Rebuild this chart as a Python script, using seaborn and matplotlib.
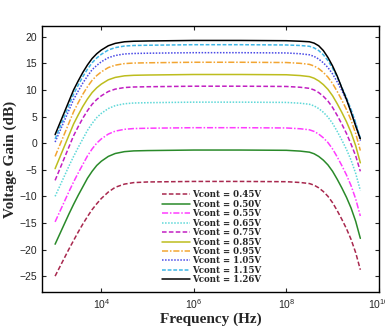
import pandas as pd
import matplotlib.pyplot as plt
import seaborn as sns
from matplotlib.ticker import FixedLocator, NullLocator

# frequency points (Hz)
freq = [1000, 1259, 1585, 1995, 2512, 3162, 3981, 5012, 6310, 7943,
        1e4, 14125, 19953, 31623, 50119, 1e5,
        1e6, 1e7, 1e8,
        2e8, 3.16e8, 3.98e8, 5.01e8, 6.31e8, 7.94e8, 1e9, 1.26e9, 1.58e9,
        2e9, 2.51e9, 3.16e9, 3.98e9]

# voltage gain (dB) for each control voltage
g045 = [-25.0, -23.3, -21.6, -19.9, -18.3, -16.7, -15.2, -13.8, -12.5, -11.4,
        -10.4, -9.2, -8.3, -7.7, -7.42, -7.3,
        -7.2, -7.2, -7.25,
        -7.4, -7.6, -7.9, -8.4, -9.1, -10.0, -11.2, -12.7, -14.3,
        -16.1, -18.1, -20.6, -23.8]
g050 = [-19.0, -17.1, -15.2, -13.3, -11.5, -9.8, -8.2, -6.6, -5.3, -4.2,
        -3.4, -2.5, -1.95, -1.6, -1.46, -1.4,
        -1.3, -1.3, -1.35,
        -1.5, -1.7, -2.0, -2.5, -3.2, -4.1, -5.3, -6.8, -8.4,
        -10.2, -12.2, -14.7, -17.9]
g055 = [-14.8, -12.9, -11.0, -9.1, -7.3, -5.6, -4.0, -2.4, -1.1, 0.0,
        0.8, 1.7, 2.25, 2.6, 2.74, 2.8,
        2.9, 2.9, 2.85,
        2.7, 2.5, 2.2, 1.7, 1.0, 0.1, -1.1, -2.6, -4.2,
        -6.0, -8.0, -10.5, -13.7]
g065 = [-10.0, -8.1, -6.2, -4.3, -2.5, -0.8, 0.8, 2.4, 3.7, 4.8,
        5.6, 6.5, 7.05, 7.4, 7.54, 7.6,
        7.7, 7.7, 7.65,
        7.5, 7.3, 7.0, 6.5, 5.8, 4.9, 3.7, 2.2, 0.6,
        -1.2, -3.2, -5.7, -8.9]
g075 = [-7.0, -4.9, -2.8, -0.7, 1.4, 3.1, 4.7, 6.1, 7.3, 8.2,
        8.9, 9.7, 10.15, 10.45, 10.55, 10.6,
        10.7, 10.7, 10.65,
        10.5, 10.3, 10.0, 9.5, 8.8, 7.9, 6.7, 5.2, 3.6,
        1.8, -0.2, -2.4, -5.3]
g085 = [-4.8, -2.7, -0.6, 1.5, 3.6, 5.3, 6.9, 8.3, 9.5, 10.4,
        11.1, 11.9, 12.35, 12.65, 12.75, 12.8,
        12.9, 12.9, 12.85,
        12.7, 12.5, 12.2, 11.7, 11.0, 10.1, 8.9, 7.4, 5.8,
        4.0, 2.0, -0.5, -3.7]
g095 = [-2.5, -0.4, 1.7, 3.8, 5.9, 7.6, 9.2, 10.6, 11.8, 12.7,
        13.4, 14.2, 14.65, 14.95, 15.05, 15.1,
        15.2, 15.2, 15.15,
        15.0, 14.8, 14.5, 14.0, 13.3, 12.4, 11.2, 9.7, 8.1,
        6.3, 4.3, 1.8, -1.4]
g105 = [0.2, 2.2, 4.2, 6.2, 8.2, 9.8, 11.3, 12.6, 13.8, 14.6,
        15.3, 16.05, 16.47, 16.76, 16.85, 16.9,
        17.0, 17.0, 16.95,
        16.8, 16.6, 16.3, 15.8, 15.1, 14.2, 13.0, 11.5, 9.9,
        8.1, 6.1, 3.6, 0.4]
g115 = [0.8, 2.9, 5.0, 7.1, 9.2, 10.9, 12.5, 13.9, 15.1, 16.0,
        16.7, 17.5, 17.95, 18.25, 18.35, 18.4,
        18.5, 18.5, 18.45,
        18.35, 18.2, 17.9, 17.4, 16.6, 15.5, 14.1, 12.4, 10.5,
        8.5, 6.3, 3.8, 0.9]
g126 = [1.6, 3.7, 5.8, 7.9, 10.0, 11.7, 13.3, 14.7, 15.9, 16.8,
        17.5, 18.3, 18.75, 19.05, 19.15, 19.2,
        19.3, 19.3, 19.25,
        19.15, 19.05, 18.8, 18.3, 17.4, 16.1, 14.5, 12.6, 10.4,
        8.2, 5.8, 3.2, 0.8]

labels = ["Vcont = 0.45V", "Vcont = 0.50V", "Vcont = 0.55V", "Vcont = 0.65V",
          "Vcont = 0.75V", "Vcont = 0.85V", "Vcont = 0.95V", "Vcont = 1.05V",
          "Vcont = 1.15V", "Vcont = 1.26V"]
gains = [g045, g050, g055, g065, g075, g085, g095, g105, g115, g126]

colors = ["#A8284E", "#2A8A2A", "#FF3CFF", "#5ED8D8", "#C21FC2",
          "#BDBD1E", "#F2A532", "#4A4AE6", "#3FB6E6", "#000000"]
dash_styles = [(3, 1.5), "", (4, 1.2, 1, 1.2), (1, 1), (3, 1.5),
               "", (4, 1.2, 1, 1.2), (1, 1), (2.5, 1.2), ""]

rows = []
for lab, g in zip(labels, gains):
    for f, v in zip(freq, g):
        rows.append({"freq": f, "gain": v, "series": lab})
df = pd.DataFrame(rows)

sns.set_style("ticks")
plt.rcParams["font.family"] = ["Liberation Sans", "DejaVu Sans"]

fig = plt.figure(figsize=(3.85, 3.26), dpi=100)
ax = fig.add_axes([0.109, 0.104, 0.875, 0.816])

sns.lineplot(data=df, x="freq", y="gain", hue="series", style="series",
             palette=dict(zip(labels, colors)),
             dashes=dict(zip(labels, dash_styles)),
             linewidth=1.1, ax=ax)

ax.set_xscale("log")
ax.set_xlim(520, 1e10)
ax.set_ylim(-28, 22)
ax.xaxis.set_major_locator(FixedLocator([1e4, 1e6, 1e8, 1e10]))
ax.xaxis.set_minor_locator(NullLocator())
ax.set_yticks(range(-25, 21, 5))
ax.tick_params(direction="in", top=True, right=True, length=3,
               labelsize=7.5, width=0.8)
for s in ax.spines.values():
    s.set_linewidth(1.0)
    s.set_color("black")

ax.set_xlabel("Frequency (Hz)", fontsize=11, fontweight="bold",
              family="Liberation Serif", labelpad=1)
ax.set_ylabel("Voltage Gain (dB)", fontsize=11, fontweight="bold",
              family="Liberation Serif", labelpad=2)

handles, labs = ax.get_legend_handles_labels()
leg = ax.legend(handles, labs, loc="lower center",
                bbox_to_anchor=(0.505, 0.005), frameon=True, framealpha=1,
                edgecolor="none", facecolor="white", handlelength=3.2,
                labelspacing=0.05, borderpad=0.25, handletextpad=0.3,
                prop={"family": "DejaVu Serif", "weight": "bold", "size": 6.2})

plt.savefig("out.png", dpi=100)
